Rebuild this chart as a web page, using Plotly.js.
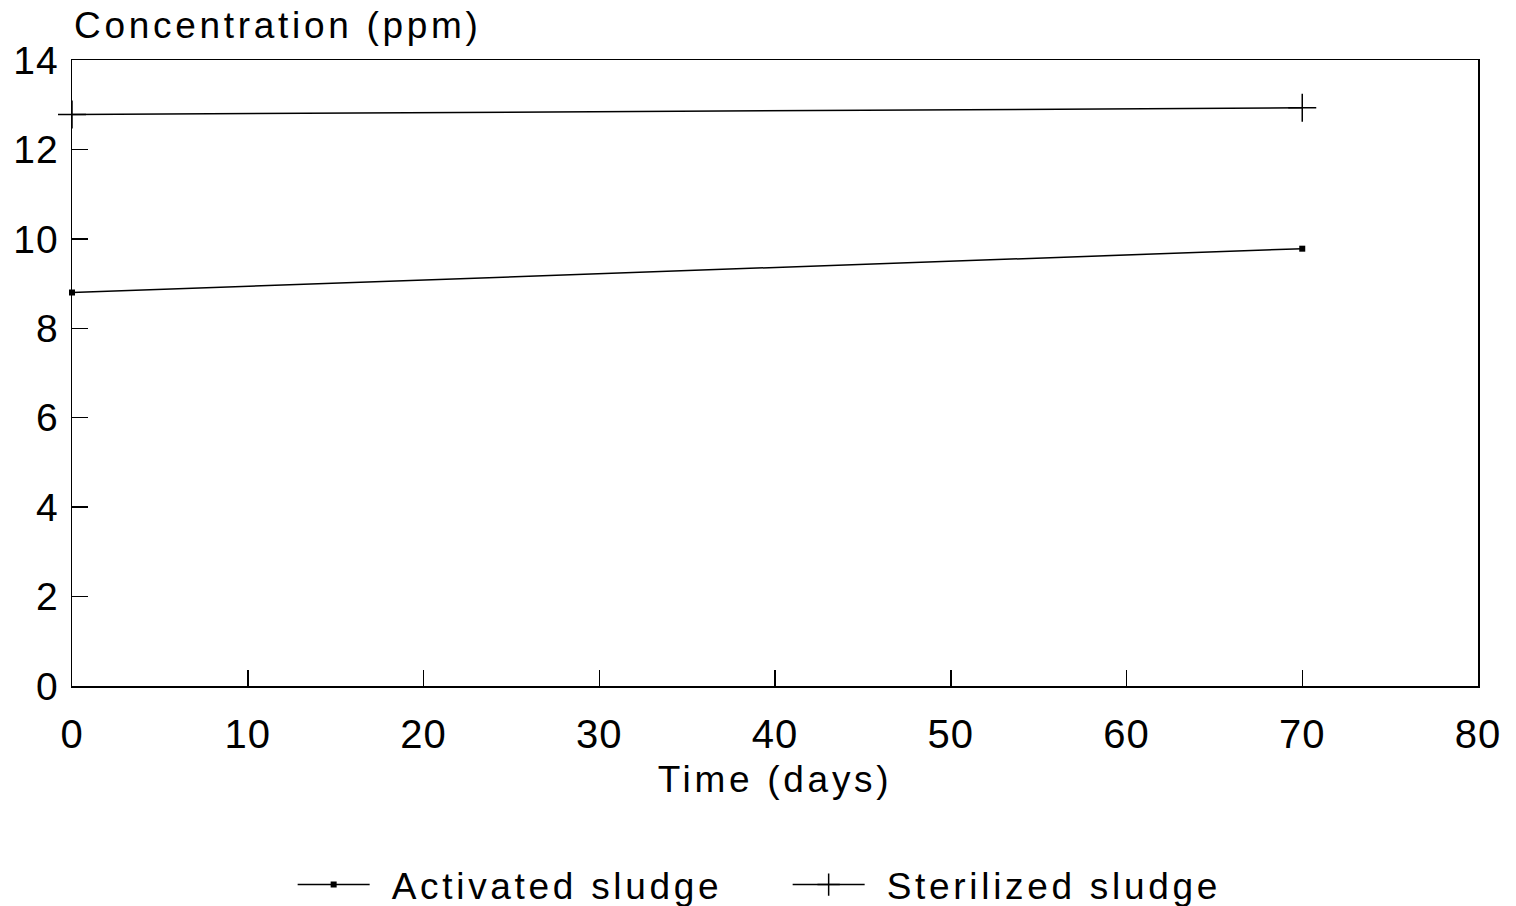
<!DOCTYPE html>
<html>
<head>
<meta charset="utf-8">
<script src="https://cdn.plot.ly/plotly-3.0.1.min.js"></script>
<style>
html, body { margin: 0; padding: 0; background: #fff; }
#chart { width: 1516px; height: 906px; }
.xtitle, .legendtext, .annotation-text { letter-spacing: 3.7px; }
.xtick text, .ytick text { letter-spacing: 1px; }
.legendtext { transform: translateX(17px); }
</style>
</head>
<body>
<div id="chart"></div>
<script>
const days = [0, 70];
const activatedSludge = [8.8, 9.78];
const sterilizedSludge = [12.78, 12.93];
const xTickValues = [0, 10, 20, 30, 40, 50, 60, 70, 80];
const yTickValues = [0, 2, 4, 6, 8, 10, 12, 14];
const seriesNames = ['Activated sludge', 'Sterilized sludge'];
const xTitle = 'Time (days)';
const yTitle = 'Concentration (ppm)';

const FONT = 'Liberation Sans, Arial, Helvetica, sans-serif';

const traces = [
  {
    x: days, y: activatedSludge, name: seriesNames[0],
    type: 'scatter', mode: 'lines+markers', cliponaxis: false,
    line: { color: '#000', width: 1.5 },
    marker: { symbol: 'square', size: 6, color: '#000' }
  },
  {
    x: days, y: sterilizedSludge, name: seriesNames[1],
    type: 'scatter', mode: 'lines+markers', cliponaxis: false,
    line: { color: '#000', width: 1.5 },
    marker: { symbol: 'cross-thin-open', size: 20, color: '#000', line: { color: '#000', width: 1.5 } }
  }
];

const layout = {
  width: 1516, height: 906,
  paper_bgcolor: '#fff', plot_bgcolor: '#fff',
  margin: { l: 72, r: 38, t: 60, b: 220, autoexpand: false },
  font: { family: FONT, color: '#000', size: 37 },
  showlegend: true,
  legend: {
    orientation: 'h', x: 0.509, xanchor: 'center', y: -0.318, yanchor: 'middle',
    font: { family: FONT, size: 37, color: '#000' },
    itemwidth: 72, entrywidth: 408, entrywidthmode: 'pixels',
    tracegroupgap: 0, bgcolor: 'rgba(0,0,0,0)'
  },
  xaxis: {
    range: [0, 80], tickvals: xTickValues, ticktext: xTickValues.map(String),
    ticks: 'inside', ticklen: 16, tickwidth: 1.5, tickcolor: '#000',
    showline: true, mirror: true, linecolor: '#000', linewidth: 1.5,
    showgrid: false, zeroline: false,
    tickfont: { family: FONT, size: 40, color: '#000' },
    ticklabelstandoff: 12,
    title: { text: xTitle, font: { family: FONT, size: 37, color: '#000' }, standoff: 11 },
    automargin: false, fixedrange: true
  },
  yaxis: {
    range: [0, 14], tickvals: yTickValues, ticktext: yTickValues.map(String),
    ticks: 'inside', ticklen: 16, tickwidth: 1.5, tickcolor: '#000',
    showline: true, mirror: true, linecolor: '#000', linewidth: 1.5,
    showgrid: false, zeroline: false,
    tickfont: { family: FONT, size: 39, color: '#000' },
    ticklabelstandoff: 4,
    automargin: false, fixedrange: true
  },
  annotations: [
    {
      text: yTitle, xref: 'paper', yref: 'paper', x: 0, y: 1,
      xanchor: 'left', yanchor: 'bottom', yshift: 12, showarrow: false,
      font: { family: FONT, size: 37, color: '#000' }
    }
  ]
};

Plotly.newPlot('chart', traces, layout, { staticPlot: true, displayModeBar: false });
</script>
</body>
</html>
